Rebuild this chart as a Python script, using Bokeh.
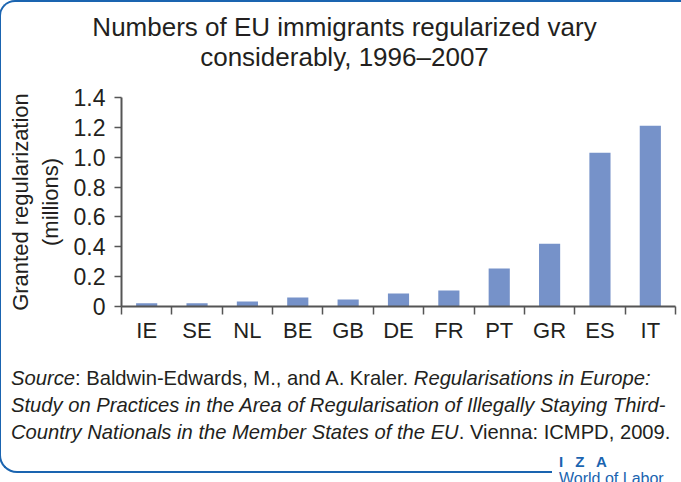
from bokeh.plotting import figure
from bokeh.models import (Range1d, FixedTicker, Div, NumeralTickFormatter,
                          ColumnDataSource)
from bokeh.layouts import column
from bokeh.embed import file_html
from bokeh.resources import INLINE

# ---- data ----
countries = ["IE", "SE", "NL", "BE", "GB", "DE", "FR", "PT", "GR", "ES", "IT"]
regularized = [0.022, 0.022, 0.033, 0.060, 0.047, 0.087, 0.107, 0.255, 0.420, 1.030, 1.210]
y_ticks = [0, 0.2, 0.4, 0.6, 0.8, 1.0, 1.2, 1.4]
y_tick_labels = ["0", "0.2", "0.4", "0.6", "0.8", "1.0", "1.2", "1.4"]

title_lines = ["Numbers of EU immigrants regularized vary",
               "considerably, 1996\u20132007"]
y_label = "Granted regularization\n(millions)"

FONT = "Liberation Sans"
TXT = "#231f20"
AX = "#555555"
BAR = "#7692c9"
BLUE = "#1a64b0"

n = len(countries)
centers = [i + 0.5 for i in range(n)]   # category slot centres
bounds = list(range(n + 1))            # category slot boundaries

src = ColumnDataSource(dict(x=centers, top=regularized, country=countries))

W = 677
title_div = Div(
    text=('<div style="width:677px;text-align:center;font-family:\'Liberation Sans\';'
          'font-size:26px;line-height:30px;color:#231f20;padding-top:5px;">'
          + "<br>".join(title_lines) + '</div>'),
    width=W, height=70)

p = figure(width=W, height=276, x_range=Range1d(0, n),
           y_range=Range1d(0, 1.4), output_backend="svg",
           toolbar_location=None,
           min_border_left=120, min_border_right=3,
           min_border_top=15, min_border_bottom=52)

p.vbar(x="x", top="top", source=src, width=0.42, color=BAR, line_color=None)

# x axis: labels at centres, ticks at category boundaries
xa = p.xaxis[0]
xa.ticker = FixedTicker(ticks=centers, minor_ticks=bounds)
xa.major_label_overrides = {c: lab for c, lab in zip(centers, countries)}
xa.major_tick_line_color = None
xa.major_tick_out = 0
xa.major_tick_in = 0
xa.minor_tick_out = 8
xa.minor_tick_in = 0
xa.minor_tick_line_color = AX
xa.minor_tick_line_width = 1.5
xa.axis_line_color = AX
xa.axis_line_width = 2
xa.major_label_standoff = 3
xa.major_label_text_font = FONT
xa.major_label_text_font_size = "22px"
xa.major_label_text_color = TXT

# y axis
ya = p.yaxis[0]
ya.ticker = FixedTicker(ticks=y_ticks)
ya.formatter = NumeralTickFormatter(format="0.0")
ya.major_label_overrides = {t: lab for t, lab in zip(y_ticks, y_tick_labels)}
ya.minor_tick_line_color = None
ya.major_tick_out = 7
ya.major_tick_in = 0
ya.major_tick_line_color = AX
ya.major_tick_line_width = 1.5
ya.axis_line_color = AX
ya.axis_line_width = 2
ya.major_label_standoff = 9
ya.major_label_text_font = FONT
ya.major_label_text_font_size = "23px"
ya.major_label_text_color = TXT
ya.axis_label = y_label
ya.axis_label_text_font = FONT
ya.axis_label_text_font_size = "22px"
ya.axis_label_text_font_style = "normal"
ya.axis_label_text_color = TXT
ya.axis_label_standoff = 8

p.xgrid.visible = False
p.ygrid.visible = False
p.outline_line_color = None

source_html = (
    '<div style="position:relative;width:677px;height:103px;">'
    '<div style="font-family:\'Liberation Sans\';font-size:20.2px;line-height:27px;'
    'color:#231f20;padding-left:5px;padding-top:2px;white-space:nowrap;">'
    '<i>Source</i>: Baldwin-Edwards, M., and A. Kraler. <i>Regularisations in Europe:</i><br>'
    '<i>Study on Practices in the Area of Regularisation of Illegally Staying Third-</i><br>'
    '<i>Country Nationals in the Member States of the EU</i>. Vienna: ICMPD, 2009.'
    '</div>'
    '<div style="position:absolute;left:546px;top:86px;width:140px;height:45px;'
    'background:white;font-family:\'Liberation Sans\';color:#1a64b0;'
    'padding-left:7px;padding-top:5px;">'
    '<div style="font-size:15px;font-weight:bold;letter-spacing:4px;line-height:16px;">'
    '<span style="font-weight:900;">I</span> Z A</div>'
    '<div style="font-size:16px;line-height:18px;">World of Labor</div>'
    '</div>'
    '</div>'
)
div = Div(text=source_html, width=W, height=103)

layout = column(title_div, p, div, styles={
    "border-top": "2px solid " + BLUE,
    "border-left": "2px solid " + BLUE,
    "border-bottom": "2px solid " + BLUE,
    "border-radius": "16px 6px 0 18px",
    "margin-left": "-1px",
    "margin-top": "0px",
})

open("out.html", "w").write(file_html(layout, INLINE))
